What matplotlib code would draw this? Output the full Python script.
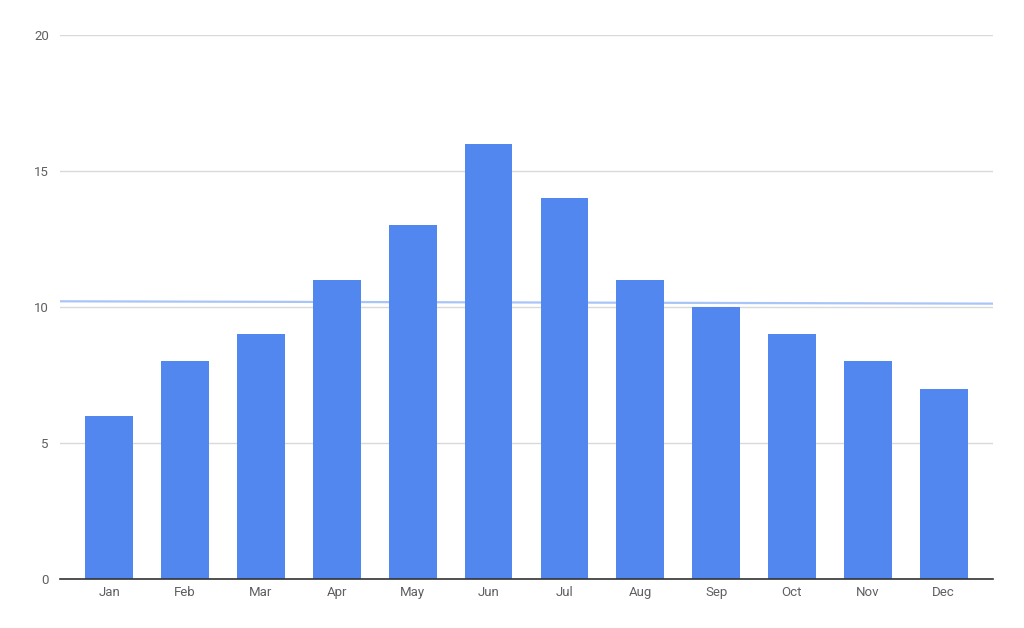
import numpy as np
import matplotlib
matplotlib.use("Agg")
import matplotlib.pyplot as plt

months = ["Jan", "Feb", "Mar", "Apr", "May", "Jun",
          "Jul", "Aug", "Sep", "Oct", "Nov", "Dec"]
values = [6, 8, 9, 11, 13, 16, 14, 11, 10, 9, 8, 7]
y_ticks = [0, 5, 10, 15, 20]

BAR_COLOR = "#5187ee"
TREND_COLOR = "#a9c5f8"
GRID_COLOR = "#d9d9d9"
TEXT_COLOR = "#5f5f5f"

plt.rcParams['font.family'] = ['Roboto', 'DejaVu Sans']

fig = plt.figure(figsize=(10.24, 6.28), dpi=100)
ax = fig.add_axes([60 / 1024, 1 - 579 / 628, 933 / 1024, 544 / 628])

x = np.arange(len(months))
ax.bar(x, values, width=0.63, color=BAR_COLOR, zorder=3)

# linear trendline across the whole plot area, drawn behind the bars
slope, intercept = np.polyfit(x, values, 1)
xlim = (-0.65, len(months) - 1 + 0.65)
tx = np.array(xlim)
ax.plot(tx, slope * tx + intercept, color=TREND_COLOR, linewidth=1.6, zorder=2)

ax.set_xlim(*xlim)
ax.set_ylim(0, 20)
ax.set_yticks(y_ticks)
ax.set_xticks(x)
ax.set_xticklabels(months)

ax.yaxis.grid(True, color=GRID_COLOR, linewidth=1, zorder=0)
ax.set_axisbelow(True)
for side in ["top", "right", "left"]:
    ax.spines[side].set_visible(False)
ax.spines["bottom"].set_color("#333333")
ax.spines["bottom"].set_linewidth(1.2)
ax.spines["bottom"].set_zorder(5)

ax.tick_params(axis="both", length=0, labelsize=9.5, labelcolor=TEXT_COLOR)
ax.tick_params(axis="x", pad=5)
ax.tick_params(axis="y", pad=8)

fig.savefig("out.png", dpi=100)
